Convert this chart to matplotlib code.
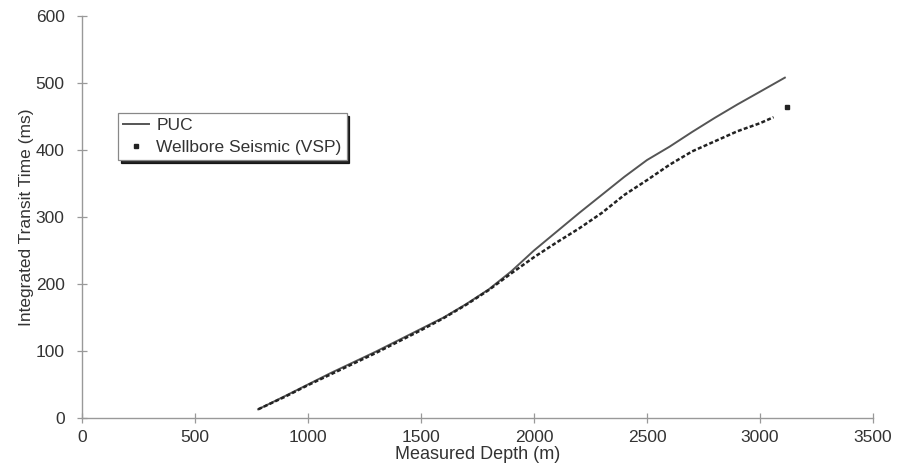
import matplotlib
matplotlib.use("Agg")
import matplotlib.pyplot as plt
from matplotlib.lines import Line2D

plt.rcParams['font.family'] = ['Liberation Sans', 'DejaVu Sans']

# PUC integrated transit time vs measured depth
puc_depth = [780, 900, 1000, 1100, 1200, 1300, 1400, 1500, 1600, 1700, 1800,
             1900, 2000, 2100, 2200, 2300, 2400, 2500, 2600, 2700, 2800, 2900,
             3000, 3110]
puc_time = [13, 33, 50, 67, 83, 99, 116, 133, 150, 170, 192,
            219, 250, 278, 306, 333, 360, 385, 405, 427, 448, 468,
            487, 508]

# wellbore seismic (VSP) check-shot times
vsp_depth = [780, 900, 1000, 1100, 1200, 1300, 1400, 1500, 1600, 1700, 1800,
             1900, 2000, 2100, 2200, 2300, 2400, 2500, 2600, 2700, 2800, 2900,
             3000, 3060]
vsp_time = [13, 32, 49, 65, 81, 97, 114, 131, 149, 169, 191,
            216, 240, 262, 283, 306, 333, 355, 378, 398, 413, 428,
            440, 449]
vsp_last_depth = [3120]
vsp_last_time = [464]

xticks = [0, 500, 1000, 1500, 2000, 2500, 3000, 3500]
yticks = [0, 100, 200, 300, 400, 500, 600]

fig = plt.figure(figsize=(9, 4.71), dpi=100)
ax = fig.add_axes([0.091, 0.1125, 0.879, 0.8535])

ax.plot(puc_depth, puc_time, color='#555555', lw=1.4)
ax.plot(vsp_depth, vsp_time, color='#222222', lw=1.8, ls=(0, (1.6, 0.9)))
ax.plot(vsp_last_depth, vsp_last_time, ls='none', marker='s', ms=2.2,
        color='#222222')

ax.set_xlim(0, 3500)
ax.set_ylim(0, 600)
ax.set_xticks(xticks)
ax.set_yticks(yticks)
for s in ['top', 'right']:
    ax.spines[s].set_visible(False)
for s in ['left', 'bottom']:
    ax.spines[s].set_color('#999999')
    ax.spines[s].set_linewidth(1.0)
ax.tick_params(direction='inout', length=7, width=0.9, color='#999999',
               labelsize=12.5, labelcolor='#333333')
ax.tick_params(axis='x', pad=5)
ax.tick_params(axis='y', pad=9)

ax.set_xlabel('Measured Depth (m)', fontsize=13, color='#333333', labelpad=1)
ax.set_ylabel('Integrated Transit Time (ms)', fontsize=12.5, color='#333333',
              labelpad=1)

handles = [Line2D([], [], color='#555555', lw=1.4),
           Line2D([], [], ls='none', marker='s', ms=2.2, color='#222222')]
leg = fig.legend(handles, ['PUC', 'Wellbore Seismic (VSP)'],
                 loc='upper left', bbox_to_anchor=(118 / 900, 1 - 113 / 471),
                 fontsize=12.5, frameon=True, fancybox=False,
                 shadow={'color': 'black', 'alpha': 0.85},
                 borderpad=0.3, handlelength=1.5, handletextpad=0.4,
                 labelspacing=0.35, borderaxespad=0)
leg.get_frame().set_edgecolor('#888888')
leg.get_frame().set_linewidth(0.9)
for t in leg.get_texts():
    t.set_color('#333333')

fig.savefig('out.png', dpi=100)
